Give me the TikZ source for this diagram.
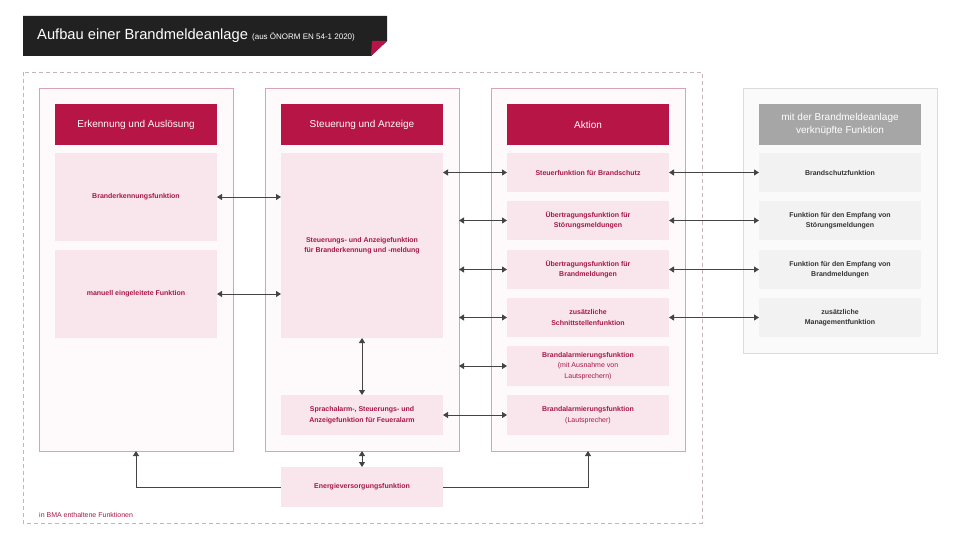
\documentclass[tikz,border=0pt]{standalone}
\usepackage{fontspec}
\setmainfont{Liberation Sans}
\usetikzlibrary{arrows.meta}
\definecolor{crim}{HTML}{B71546}
\definecolor{pinkf}{HTML}{F8E6EC}
\definecolor{colf}{HTML}{FEFAFC}
\definecolor{cols}{HTML}{D9A3B5}
\definecolor{dsh}{HTML}{C8B4BC}
\definecolor{ptext}{HTML}{A8174A}
\definecolor{arr}{HTML}{444444}
\begin{document}
\begin{tikzpicture}[x=1pt,y=-1pt,
  col/.style={draw=cols,fill=colf,line width=0.6pt,minimum width=194pt,minimum height=363pt,inner sep=0,outer sep=0},
  gcol/.style={draw=black!14,fill=black!2,line width=0.6pt,minimum width=194pt,minimum height=265pt,inner sep=0,outer sep=0},
  head/.style={fill=crim,text=white,minimum width=162pt,minimum height=41pt,inner sep=0,outer sep=0,font=\fontsize{10}{13}\selectfont,align=center},
  ghead/.style={head,fill=black!35},
  fb/.style={fill=pinkf,text=ptext,minimum width=162pt,inner sep=0,outer sep=0,font=\fontsize{7}{10.5}\selectfont\bfseries,align=center},
  gb/.style={fb,fill=black!5,text=black!80},
  ar/.style={arr,line width=0.8pt,{Triangle[length=5pt,width=6pt]}-{Triangle[length=5pt,width=6pt]}},
  sa/.style={arr,line width=0.8pt,-{Triangle[length=5pt,width=6pt]}}]
\useasboundingbox (0,0) rectangle (960,540);
\fill[black!87] (23,16) -- (387,16) -- (387,41) -- (371,56) -- (23,56) -- cycle;
\fill[crim] (372,41) -- (387,41) -- (371,56) -- cycle;
\node[anchor=west,text=white,inner sep=0] (title) at (37,36) {\fontsize{14.7}{17}\selectfont Aufbau einer Brandmeldeanlage \fontsize{8}{10}\selectfont (aus ÖNORM EN 54-1 2020)};
\draw[dsh,line width=0.6pt,dash pattern=on 4pt off 3pt] (23,72) rectangle (702,523);
\node[col] (col1) at (136,269.5) {};
\node[col] (col2) at (362,269.5) {};
\node[col] (col3) at (588,269.5) {};
\node[gcol] (col4) at (840,220.5) {};
\node[head] (h1) at (136,124.5) {Erkennung und Auslösung};
\node[head] (h2) at (362,124.5) {Steuerung und Anzeige};
\node[head] (h3) at (588,124.5) {Aktion};
\node[ghead] (h4) at (840,124.5) {mit der Brandmeldeanlage\\verknüpfte Funktion};
\node[fb,minimum height=88pt] (b1) at (136,197) {Branderkennungsfunktion};
\node[fb,minimum height=88pt] (b2) at (136,294) {manuell eingeleitete Funktion};
\node[fb,minimum height=185pt] (c1) at (362,245.5) {Steuerungs- und Anzeigefunktion\\für Branderkennung und -meldung};
\node[fb,minimum height=40pt] (c2) at (362,415) {Sprachalarm-, Steuerungs- und\\Anzeigefunktion für Feueralarm};
\node[fb,minimum height=39pt] (a1) at (588,172.5) {Steuerfunktion für Brandschutz};
\node[fb,minimum height=39pt] (a2) at (588,220.5) {Übertragungsfunktion für\\Störungsmeldungen};
\node[fb,minimum height=39pt] (a3) at (588,269.5) {Übertragungsfunktion für\\Brandmeldungen};
\node[fb,minimum height=39pt] (a4) at (588,317.5) {zusätzliche\\Schnittstellenfunktion};
\node[fb,minimum height=40pt] (a5) at (588,366) {Brandalarmierungsfunktion\\{\mdseries(mit Ausnahme von}\\{\mdseries Lautsprechern)}};
\node[fb,minimum height=40pt] (a6) at (588,415) {Brandalarmierungsfunktion\\{\mdseries(Lautsprecher)}};
\node[gb,minimum height=39pt] (g1) at (840,172.5) {Brandschutzfunktion};
\node[gb,minimum height=39pt] (g2) at (840,220.5) {Funktion für den Empfang von\\Störungsmeldungen};
\node[gb,minimum height=39pt] (g3) at (840,269.5) {Funktion für den Empfang von\\Brandmeldungen};
\node[gb,minimum height=39pt] (g4) at (840,317.5) {zusätzliche\\Managementfunktion};
\node[fb,minimum height=40pt] (e) at (362,487) {Energieversorgungsfunktion};
\node[anchor=west,text=ptext,inner sep=0,font=\fontsize{7}{8}\selectfont] (lbl) at (39,515) {in BMA enthaltene Funktionen};
\draw[ar] (b1.east) -- (b1.east -| c1.west);
\draw[ar] (b2.east) -- (b2.east -| c1.west);
\draw[ar] (a1.west -| c1.east) -- (a1.west);
\draw[ar] (a2.west -| col2.east) -- (a2.west);
\draw[ar] (a3.west -| col2.east) -- (a3.west);
\draw[ar] (a4.west -| col2.east) -- (a4.west);
\draw[ar] (a5.west -| col2.east) -- (a5.west);
\draw[ar] (c2.east) -- (c2.east -| a6.west);
\foreach \i in {1,2,3,4}{\draw[ar] (a\i.east) -- (g\i.west);}
\draw[ar] (c1.south) -- (c2.north);
\draw[ar] (col2.south) -- (e.north);
\draw[sa] (e.west) -| (col1.south);
\draw[sa] (e.east) -| (col3.south);
\end{tikzpicture}
\end{document}
